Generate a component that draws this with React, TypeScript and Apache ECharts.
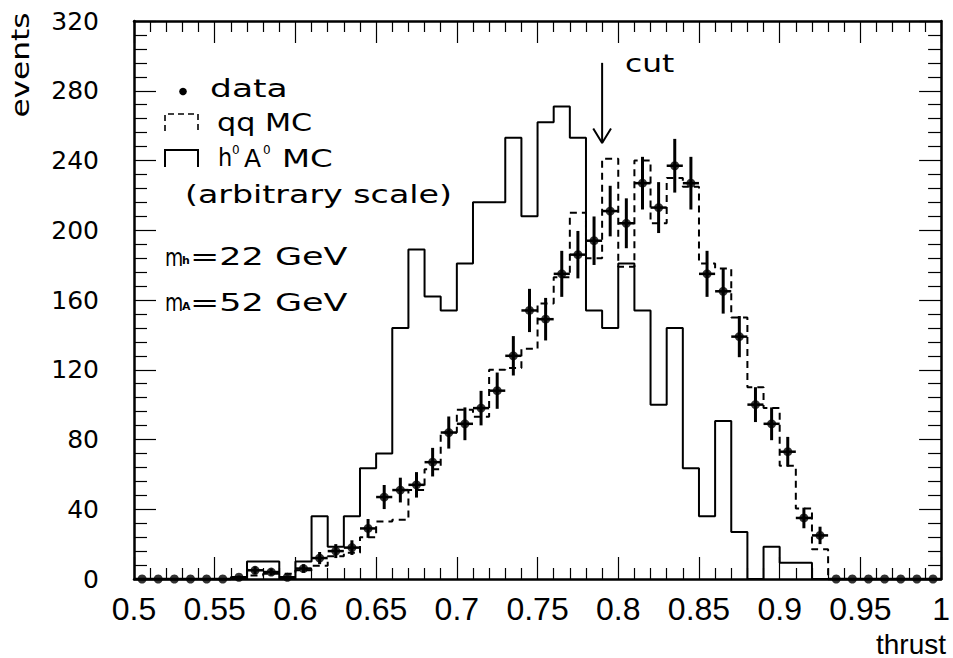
import React, { useEffect, useRef } from "react";
import * as echarts from "echarts";

// ---- data (50 bins of width 0.01 from thrust 0.50 to 1.00) ----
const binStart = 0.5;
const binWidth = 0.01;

const dataCounts = [
  0, 0, 0, 0, 0, 0, 1, 5, 4, 1,
  6, 12, 16, 18, 29, 47, 51, 54, 67, 84,
  89, 98, 108, 128, 154, 149, 175, 186, 194, 211,
  204, 227, 213, 237, 227, 175, 165, 139, 100, 89,
  73, 35, 25, 0, 0, 0, 0, 0, 0, 0,
];
const dataErrors = [
  0, 0, 0, 0, 0, 0, 1, 2.2, 2, 1,
  2.4, 3.5, 4, 4.2, 5.4, 6.9, 7.1, 7.3, 8.2, 9.2,
  9.4, 9.9, 10.4, 11.3, 12.4, 12.2, 13.2, 13.6, 13.9, 14.5,
  14.3, 15.1, 14.6, 15.4, 15.1, 13.2, 12.8, 11.8, 10, 9.4,
  8.5, 5.9, 5, 0, 0, 0, 0, 0, 0, 0,
];
const qqMC = [
  0, 0, 0, 0, 0, 0, 1, 2, 3, 3,
  5, 7.6, 13, 15, 24, 33, 34, 51, 63, 84,
  97, 93, 120, 121, 132, 158, 173, 210, 184, 241,
  179, 240, 204, 230, 225, 181, 178, 150, 110, 98,
  65, 40.5, 17, 0, 0, 0, 0, 0, 0, 0,
];
const hAMC = [
  0, 0, 0, 0, 0, 0, 0, 10, 10, 0,
  10, 36, 18.5, 36, 63.5, 72, 144, 189, 162, 154,
  181, 216, 216, 253, 208, 262, 271, 253, 154, 144,
  181, 154, 100, 144, 63.5, 36, 90.6, 27, 0, 18.5,
  9.3, 9.3, 0, 0, 0, 0, 0, 0, 0, 0,
];

const cutX = 0.79;
const cutTop = 296;
const cutTip = 250;

const round3 = (v: number) => Math.round(v * 1000) / 1000;
const binLo = (i: number) => round3(binStart + i * binWidth);
const binCenter = (i: number) => round3(binStart + (i + 0.5) * binWidth);

function stepOutline(vals: number[]) {
  const pts: number[][] = [];
  vals.forEach((v, i) => {
    pts.push([binLo(i), v], [binLo(i + 1), v]);
  });
  return pts;
}

const FONT = "DejaVu Sans";
const NARROW = "'Liberation Sans Narrow', 'Liberation Sans', sans-serif";

function txt(text: string, x: number, y: number, opts: any = {}) {
  const { size = 25, scaleX = 1, align = "left", weight = "normal", rotation = 0, family = FONT } = opts;
  return {
    type: "text",
    x,
    y,
    scaleX,
    rotation,
    silent: true,
    style: {
      text,
      fill: "#000",
      fontSize: size,
      fontFamily: family,
      fontWeight: weight,
      align,
      textAlign: align,
      verticalAlign: "middle",
      textVerticalAlign: "middle",
    },
  };
}

export default function App() {
  const ref = useRef<HTMLDivElement>(null);

  useEffect(() => {
    if (!ref.current) return;
    const chart = echarts.init(ref.current, undefined, { renderer: "svg" });

    const xBase: any = {
      type: "value",
      min: 0.5,
      max: 1,
      interval: 0.05,
      axisLine: { show: true, onZero: false, lineStyle: { color: "#000", width: 2.5 } },
      axisTick: { show: true, inside: true, length: 22, lineStyle: { color: "#000", width: 1.2 } },
      minorTick: { show: true, splitNumber: 5, length: 11, lineStyle: { color: "#000", width: 1.2 } },
      splitLine: { show: false },
      minorSplitLine: { show: false },
    };
    const yBase: any = {
      type: "value",
      min: 0,
      max: 320,
      interval: 40,
      axisLine: { show: true, onZero: false, lineStyle: { color: "#000", width: 2.5 } },
      axisTick: { show: true, inside: true, length: 22, lineStyle: { color: "#000", width: 1.2 } },
      minorTick: { show: true, splitNumber: 5, length: 13, lineStyle: { color: "#000", width: 1.2 } },
      splitLine: { show: false },
      minorSplitLine: { show: false },
    };

    const option: any = {
      animation: false,
      backgroundColor: "#fff",
      grid: { left: 134, right: 3, top: 21, bottom: 79, containLabel: false },
      xAxis: [
        {
          ...xBase,
          position: "bottom",
          axisLabel: {
            show: true,
            color: "#000",
            fontSize: 32,
            fontFamily: NARROW,
            margin: 14,
            formatter: (v: number) => String(Math.round(v * 100) / 100),
          },
        },
        { ...xBase, position: "top", axisLabel: { show: false } },
      ],
      yAxis: [
        {
          ...yBase,
          position: "left",
          axisLabel: { show: true, color: "#000", fontSize: 25, fontFamily: FONT, margin: 35 },
        },
        { ...yBase, position: "right", axisLabel: { show: false } },
      ],
      series: [
        {
          name: "h0 A0 MC",
          type: "line",
          data: stepOutline(hAMC),
          symbol: "none",
          lineStyle: { color: "#000", width: 2 },
          silent: true,
          z: 2,
        },
        {
          name: "qq MC",
          type: "line",
          data: stepOutline(qqMC),
          symbol: "none",
          lineStyle: { color: "#000", width: 2, type: [7, 5] },
          silent: true,
          z: 3,
        },
        {
          name: "errors",
          type: "custom",
          data: dataCounts.map((v, i) => [binCenter(i), v, dataErrors[i]]),
          encode: { x: 0, y: 1 },
          z: 4,
          silent: true,
          renderItem: (_p: any, api: any) => {
            const x = api.value(0);
            const y = api.value(1);
            const e = api.value(2);
            const top = api.coord([x, y + e]);
            const bot = api.coord([x, y - e]);
            const l = api.coord([x - binWidth / 2, y]);
            const r = api.coord([x + binWidth / 2, y]);
            return {
              type: "group",
              children: [
                { type: "line", shape: { x1: top[0], y1: top[1], x2: bot[0], y2: bot[1] }, style: { stroke: "#000", lineWidth: 3 } },
                { type: "line", shape: { x1: l[0], y1: l[1], x2: r[0], y2: r[1] }, style: { stroke: "#000", lineWidth: 2.5 } },
              ],
            };
          },
        },
        {
          name: "data",
          type: "scatter",
          data: dataCounts.map((v, i) => [binCenter(i), v]),
          symbol: "circle",
          symbolSize: 9,
          itemStyle: { color: "#000" },
          silent: true,
          z: 5,
        },
        {
          name: "cut",
          type: "line",
          data: [
            [cutX, cutTop],
            [cutX, cutTip],
          ],
          symbol: "none",
          lineStyle: { color: "#000", width: 2 },
          silent: true,
          z: 6,
        },
        {
          name: "cut-head",
          type: "line",
          data: [
            [cutX - 0.0055, cutTip + 8.3],
            [cutX, cutTip],
            [cutX + 0.0055, cutTip + 8.3],
          ],
          symbol: "none",
          lineStyle: { color: "#000", width: 2 },
          silent: true,
          z: 6,
        },
      ],
      graphic: [
        // axis titles
        txt("events", 21, 65, { rotation: Math.PI / 2, scaleX: 1.25, align: "center" }),
        txt("thrust", 946, 644, { size: 28, family: NARROW, align: "right" }),
        txt("cut", 625, 64, { scaleX: 1.25 }),
        // legend: data
        { type: "circle", shape: { cx: 183, cy: 91.5, r: 3.8 }, style: { fill: "#000" }, silent: true },
        txt("data", 210, 88, { scaleX: 1.38 }),
        // legend: qq MC (dashed box)
        {
          type: "polyline",
          shape: { points: [[165, 131], [165, 114], [198, 114], [198, 131]] },
          style: { stroke: "#000", lineWidth: 1.6, lineDash: [6, 4], fill: "none" },
          silent: true,
        },
        txt("qq MC", 217, 122, { scaleX: 1.21 }),
        // legend: h0 A0 MC (solid box)
        {
          type: "polyline",
          shape: { points: [[165, 167], [165, 150], [198, 150], [198, 167]] },
          style: { stroke: "#000", lineWidth: 2, fill: "none" },
          silent: true,
        },
        txt("h", 218, 158, { scaleX: 0.9 }),
        txt("0", 232, 150, { size: 12 }),
        txt("A", 244, 158, { scaleX: 1.0 }),
        txt("0", 263, 150, { size: 12 }),
        txt("MC", 282, 158, { scaleX: 1.3 }),
        txt("(arbitrary scale)", 185, 194.5, { scaleX: 1.33 }),
        // masses
        txt("m", 165, 256.5, { scaleX: 0.75 }),
        txt("h", 182, 260.5, { size: 11, weight: "bold" }),
        txt("=22 GeV", 190, 256.5, { scaleX: 1.4 }),
        txt("m", 165, 302, { scaleX: 0.75 }),
        txt("A", 182, 306.5, { size: 11, weight: "bold" }),
        txt("=52 GeV", 190, 302, { scaleX: 1.4 }),
      ],
    };

    chart.setOption(option);
    return () => chart.dispose();
  }, []);

  return (
    <div
      ref={ref}
      style={{ position: "absolute", left: 0, top: 0, width: 953, height: 658, background: "#fff" }}
    />
  );
}
